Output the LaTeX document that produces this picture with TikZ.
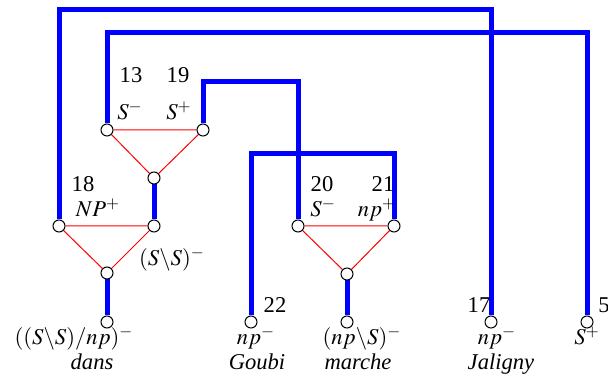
\documentclass[tikz,border=0pt]{standalone}
\usepackage{mathptmx}
\usepackage{fontspec}
\setmainfont{Liberation Serif}
\usetikzlibrary{backgrounds}

\tikzset{
  vtx/.style={circle, draw=black, line width=0.5pt, fill=white, minimum size=6pt, inner sep=0pt},
  link/.style={draw=blue, line width=2.5pt},
  axiom/.style={draw=red, line width=0.5pt},
  lbl/.style={anchor=base, inner sep=0pt, font=\fontsize{11.3}{13}\selectfont},
}

\begin{document}
\begin{tikzpicture}[x=0.5pt, y=-0.5pt]
\useasboundingbox (0,0) rectangle (608,383);

% upper link (dans)
\node[vtx] (s13) at (107,130) {};
\node[vtx] (s19) at (203,130) {};
\node[vtx] (ss) at (154,178) {};
% lower link (dans)
\node[vtx] (np18) at (59,226) {};
\node[vtx] (ssm) at (154,226) {};
\node[vtx] (dansv) at (107,273) {};
\node[vtx] (dans) at (107,322) {};
% Goubi
\node[vtx] (goubi) at (251,322) {};
% marche
\node[vtx] (s20) at (298,226) {};
\node[vtx] (np21) at (394,226) {};
\node[vtx] (marv) at (347,274) {};
\node[vtx] (marche) at (347,322) {};
% Jaligny and S
\node[vtx] (j17) at (491,322) {};
\node[vtx] (s5) at (587,322) {};

% heights of the axiom links
\coordinate (top1) at (0,10);
\coordinate (top2) at (0,33);
\coordinate (top3) at (0,82);
\coordinate (top4) at (0,154);

% labels
\node[lbl] (l13) at (131,83) {13};
\node[lbl] (l19) at (178,83) {19};
\node[lbl] (f13) at (130,120) {$S^-$};
\node[lbl] (f19) at (179,120) {$S^+$};
\node[lbl] (l18) at (83,192) {18};
\node[lbl] (f18) at (98,217) {$NP^+$};
\node[lbl] (fss) at (172,266) {$(S\backslash S)^-$};
\node[lbl] (fdans) at (74,345) {$((S\backslash S)/np)^-$};
\node[lbl] (wdans) at (92,370) {\textit{dans}};
\node[lbl] (l22) at (275,313) {22};
\node[lbl] (fgoubi) at (256,345) {$np^-$};
\node[lbl] (wgoubi) at (257,370) {\textit{Goubi}};
\node[lbl] (l20) at (322,192) {20};
\node[lbl] (f20) at (323,217) {$S^-$};
\node[lbl] (l21) at (383,192) {21};
\node[lbl] (f21) at (377,217) {$np^+$};
\node[lbl] (fmarche) at (362,345) {$(np\backslash S)^-$};
\node[lbl] (wmarche) at (358,370) {\textit{marche}};
\node[lbl] (l17) at (479,313) {17};
\node[lbl] (fj) at (497,345) {$np^-$};
\node[lbl] (wj) at (501,370) {\textit{Jaligny}};
\node[lbl] (l5) at (604,313) {5};
\node[lbl] (f5) at (587,345) {$S^+$};

\begin{scope}[on background layer]
  \draw[link] (np18) |- (j17 |- top1) -- (j17);
  \draw[link] (s13) |- (s5 |- top2) -- (s5);
  \draw[link] (s19) |- (s20 |- top3) -- (s20);
  \draw[link] (goubi) |- (np21 |- top4) -- (np21);
  \draw[link] (ss) -- (ssm);
  \draw[link] (dansv) -- (dans);
  \draw[link] (marv) -- (marche);
  \draw[axiom] (s13) -- (s19) -- (ss) -- (s13);
  \draw[axiom] (np18) -- (ssm) -- (dansv) -- (np18);
  \draw[axiom] (s20) -- (np21) -- (marv) -- (s20);
\end{scope}
\end{tikzpicture}
\end{document}
